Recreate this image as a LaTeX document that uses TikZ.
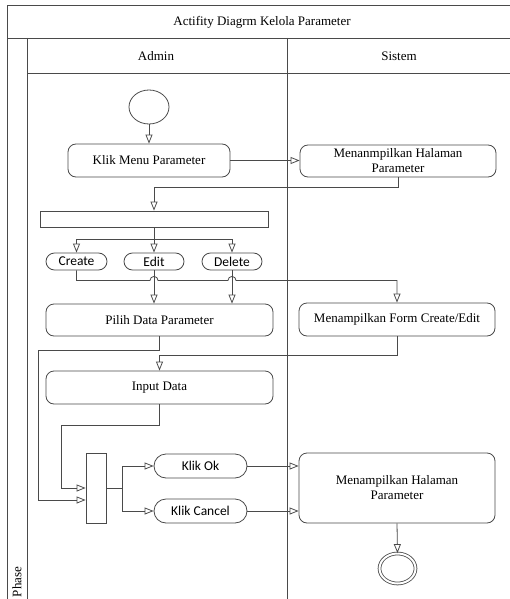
\documentclass[tikz,border=0pt]{standalone}
\usepackage{fontspec}
\setmainfont{Liberation Serif}
\newfontfamily\calibri{Carlito}
\usepackage{xcolor}
\usepackage{tikz}
\usetikzlibrary{arrows.meta, positioning, calc, shapes.geometric}
\definecolor{garis}{HTML}{4A4A4A}

\begin{document}
\begin{tikzpicture}[x=1pt, y=-1pt, line width=0.8pt,
    act/.style={draw=garis, rounded corners=8pt, align=center, font=\fontsize{13}{15}\selectfont},
    oval/.style={draw=garis, rounded corners=8.5pt, minimum height=17pt, inner sep=1pt, font=\calibri\fontsize{13.5}{15}\selectfont},
    bar/.style={draw=garis, rectangle},
    flow/.style={draw=garis, -{Triangle[open, length=9pt, width=7pt]}},
    lane/.style={draw=garis},
    lbl/.style={font=\fontsize{13}{15}\selectfont}]
    \useasboundingbox (0,0) rectangle (510,599);

    % swimlane
    \draw[lane] (7,599) -- (7,5) -- (510,5);
    \draw[lane] (7,38) -- (510,38);
    \draw[lane] (27,73) -- (510,73);
    \draw[lane] (27,38) -- (27,599);
    \draw[lane] (287,38) -- (287,599);
    \node[lbl] (judul) at (262,22) {Actifity Diagrm Kelola Parameter};
    \node[lbl] (admin) at (156,56) {Admin};
    \node[lbl] (sistem) at (399,56) {Sistem};
    \node[lbl, rotate=90] (phase) at (17,582) {Phase};

    % node aktivitas
    \node[draw=garis, ellipse, minimum width=40pt, minimum height=34pt] (mulai) at (149,107) {};
    \node[act, minimum width=162pt, minimum height=33pt] (klik) at (149,160.5) {Klik Menu Parameter};
    \node[act, minimum width=196pt, minimum height=32pt] (tampil) at (398,161) {Menanmpilkan Halaman\\Parameter};
    \node[bar, minimum width=228pt, minimum height=16pt] (fork) at (154,219) {};
    \node[oval, minimum width=61pt] (create) at (76.5,261.5) {Create};
    \node[oval, minimum width=60pt] (edit) at (154,261.5) {Edit};
    \node[oval, minimum width=60pt] (delete) at (232,261.5) {Delete};
    \node[act, minimum width=227pt, minimum height=32pt] (pilih) at (159.5,320) {Pilih Data Parameter};
    \node[act, minimum width=196pt, minimum height=33pt] (form) at (397,319.5) {Menampilkan Form Create/Edit};
    \node[act, minimum width=227pt, minimum height=33pt] (input) at (159.5,387.5) {Input Data};
    \node[bar, minimum width=20pt, minimum height=70pt] (join) at (96,488) {};
    \node[oval, rounded corners=12pt, minimum width=93pt, minimum height=24pt] (ok) at (200.5,466) {Klik Ok};
    \node[oval, rounded corners=12pt, minimum width=93pt, minimum height=24pt] (cancel) at (200.5,511) {Klik Cancel};
    \node[act, minimum width=196pt, minimum height=70pt] (hasil) at (397,488) {Menampilkan Halaman\\Parameter};
    \node[draw=garis, ellipse, double, double distance=2pt, minimum width=36pt, minimum height=30pt] (selesai) at (397.5,568.5) {};

    % alur
    \draw[flow] (mulai) -- (klik);
    \draw[flow] (klik.east) -- (klik.east -| tampil.west);
    \draw[flow] (tampil.south) -- ++(0,10) -| (fork.north);
    \draw[garis] (fork.south) -- ++(0,12) coordinate (cabang);
    \draw[garis] (cabang -| create.north) -- (cabang -| delete.north);
    \draw[flow] (cabang -| create.north) -- (create.north);
    \draw[flow] (cabang) -- (edit.north);
    \draw[flow] (cabang -| delete.north) -- (delete.north);
    \draw[flow] (create.south) -- ++(0,10) coordinate (c1)
        -- ($(c1 -| edit.south)+(-4,0)$) arc[start angle=180, end angle=0, radius=4pt]
        -- ($(c1 -| delete.south)+(-4,0)$) arc[start angle=180, end angle=0, radius=4pt]
        -| (form.north);
    \draw[flow] (edit.south) -- (edit.south |- pilih.north);
    \draw[flow] (delete.south) -- (delete.south |- pilih.north);
    \draw[flow] (pilih.south) -- ++(0,14) -| (38,500) -- ($(join.west)+(0,12)$);
    \draw[flow] (form.south) -- ++(0,19) -| (input.north);
    \draw[flow] (input.south) -- ++(0,21) -| (61,488) -- (join.west);
    \draw[garis] (join.east) -- ++(16,0) coordinate (gabung);
    \draw[flow] (gabung) |- (ok.west);
    \draw[flow] (gabung) |- (cancel.west);
    \draw[flow] (ok.east) -- (ok.east -| hasil.west);
    \draw[flow] (cancel.east) -- (cancel.east -| hasil.west);
    \draw[flow] (hasil.south) -- (selesai.north);
\end{tikzpicture}
\end{document}
